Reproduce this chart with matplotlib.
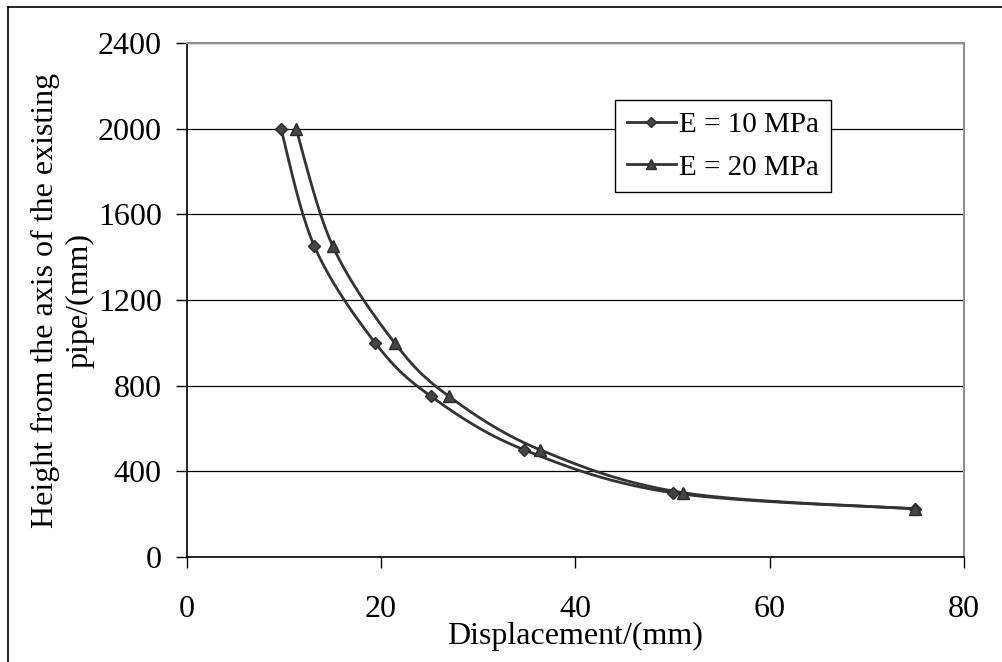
import numpy as np
import matplotlib
matplotlib.use("Agg")
import matplotlib.pyplot as plt
from matplotlib.lines import Line2D

# data
height_mm = [2000, 1450, 1000, 750, 500, 300, 225]
disp_e10 = [9.7, 13.15, 19.4, 25.15, 34.75, 50.0, 75.0]
disp_e20 = [11.25, 15.05, 21.4, 27.0, 36.4, 51.1, 75.0]
series_labels = ["E = 10 MPa", "E = 20 MPa"]
x_ticks = [0, 20, 40, 60, 80]
y_ticks = [0, 400, 800, 1200, 1600, 2000, 2400]

plt.rcParams["font.family"] = ["Liberation Serif", "DejaVu Serif"]
LINE_C = "#333333"
MARK_C = "#454545"


def smooth(xs, ys, sx, sy, n=30):
    """Excel-like smoothed line: Bezier through points, tension 1/6, in screen units."""
    px = np.asarray(xs, float) * sx
    py = np.asarray(ys, float) * sy
    outx, outy = [], []
    m = len(px)
    for i in range(m - 1):
        p0 = (px[max(i - 1, 0)], py[max(i - 1, 0)])
        p1 = (px[i], py[i])
        p2 = (px[i + 1], py[i + 1])
        p3 = (px[min(i + 2, m - 1)], py[min(i + 2, m - 1)])
        c1 = (p1[0] + (p2[0] - p0[0]) / 6, p1[1] + (p2[1] - p0[1]) / 6)
        c2 = (p2[0] - (p3[0] - p1[0]) / 6, p2[1] - (p3[1] - p1[1]) / 6)
        t = np.linspace(0, 1, n)
        bx = (1 - t) ** 3 * p1[0] + 3 * (1 - t) ** 2 * t * c1[0] + 3 * (1 - t) * t ** 2 * c2[0] + t ** 3 * p2[0]
        by = (1 - t) ** 3 * p1[1] + 3 * (1 - t) ** 2 * t * c1[1] + 3 * (1 - t) * t ** 2 * c2[1] + t ** 3 * p2[1]
        outx.extend(bx)
        outy.extend(by)
    return np.array(outx) / sx, np.array(outy) / sy


fig = plt.figure(figsize=(10.02, 6.62), dpi=100)
ax = fig.add_axes([0.1863, 0.1586, 0.7758, 0.7764])

# screen scale (px per data unit) for smoothing
sx = 777.3 / 80
sy = 514.0 / 2400

for xs, mk, ms in [(disp_e10, "D", 6), (disp_e20, "^", 8)]:
    cx, cy = smooth(xs, height_mm, sx, sy)
    ax.plot(cx, cy, color=LINE_C, lw=2.0, zorder=3)
    ax.plot(xs, height_mm, ls="none", marker=mk, ms=ms, mfc=MARK_C,
            mec="#2a2a2a", mew=1.0, zorder=4)

ax.set_xlim(0, 80)
ax.set_ylim(0, 2400)
ax.set_xticks(x_ticks)
ax.set_yticks(y_ticks)
ax.tick_params(axis="both", direction="out", length=8, width=1.0,
               labelsize=23, color="black")
ax.tick_params(axis="y", pad=10)
ax.tick_params(axis="x", pad=19)
ax.yaxis.grid(True, color="black", lw=0.9)
ax.set_axisbelow(True)
for s in ["left", "bottom"]:
    ax.spines[s].set_color("black")
    ax.spines[s].set_linewidth(1.2)
for s in ["top", "right"]:
    ax.spines[s].set_color("#909090")
    ax.spines[s].set_linewidth(1.5)

ax.set_xlabel("Displacement/(mm)", fontsize=23, labelpad=-1)
ax.set_ylabel("Height from the axis of the existing\npipe/(mm)", fontsize=23,
              linespacing=1.25, labelpad=2)

handles = [
    Line2D([], [], color=LINE_C, lw=2.0, marker="D", ms=5, mfc=MARK_C, mec="#2a2a2a"),
    Line2D([], [], color=LINE_C, lw=2.0, marker="^", ms=7, mfc=MARK_C, mec="#2a2a2a"),
]
leg = ax.legend(handles, series_labels, loc="upper left",
                bbox_to_anchor=(615 / 1002, 1 - 100 / 662), bbox_transform=fig.transFigure,
                fontsize=21, frameon=True, fancybox=False, framealpha=1,
                edgecolor="black", handlelength=1.7, handletextpad=0.1,
                borderpad=0.4, labelspacing=0.55, borderaxespad=0)
leg.get_frame().set_linewidth(1.0)

# outer chart frame (left and top edges visible)
fig.add_artist(Line2D([8 / 1002, 8 / 1002], [0, 1 - 7 / 662], color="black", lw=1.2,
                      transform=fig.transFigure))
fig.add_artist(Line2D([8 / 1002, 1], [1 - 7 / 662, 1 - 7 / 662], color="black", lw=1.2,
                      transform=fig.transFigure))

fig.savefig("out.png", dpi=100)
